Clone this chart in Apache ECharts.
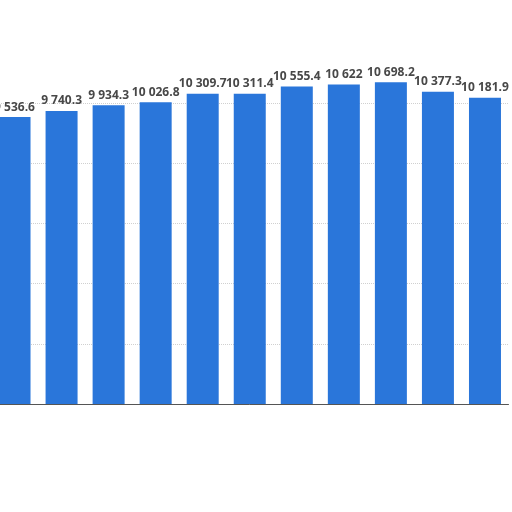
<!DOCTYPE html>
<html>
<head>
<meta charset="utf-8">
<script src="https://cdn.jsdelivr.net/npm/echarts@6/dist/echarts.min.js"></script>
<style>
  html, body { margin: 0; padding: 0; background: #fff; overflow: hidden; width: 512px; height: 512px; }
  #chart { position: absolute; left: -9px; top: 0; width: 521px; height: 512px; }
</style>
</head>
<body>
<div id="chart"></div>
<script>
// category names are not visible in the picture
const categories = ['1', '2', '3', '4', '5', '6', '7', '8', '9', '10', '11']
const values = [9536.6, 9740.3, 9934.3, 10026.8, 10309.7, 10311.4, 10555.4, 10622, 10698.2, 10377.3, 10181.9]
const yTicks = [0, 2000, 4000, 6000, 8000, 10000, 12000]

function fmt(v) {
    let parts = String(v).split('.')
    let int = parts[0].replace(/\B(?=(\d{3})+(?!\d))/g, ' ')
    return parts.length > 1 ? int + '.' + parts[1] : int
}

let chart = echarts.init(document.getElementById('chart'))
chart.setOption({
    animation: false,
    grid: { left: 0, right: 3.5, top: 43, bottom: 108, containLabel: false },
    xAxis: {
        type: 'category',
        data: categories,
        axisLine: { lineStyle: { color: '#555', width: 1 } },
        axisTick: { show: false },
        axisLabel: { show: false }
    },
    yAxis: {
        type: 'value',
        min: yTicks[0],
        max: yTicks[yTicks.length - 1],
        interval: 2000,
        axisLabel: { show: false },
        axisLine: { show: false },
        axisTick: { show: false },
        splitLine: {
            showMaxLine: false,
            lineStyle: { color: '#d0d0d0', type: 'dotted', width: 1 }
        }
    },
    series: [{
        type: 'bar',
        data: values,
        barWidth: 32,
        itemStyle: { color: '#2a76da' },
        label: {
            show: true,
            position: 'top',
            distance: 4,
            color: '#484848',
            fontFamily: 'Open Sans',
            fontWeight: 'bold',
            fontSize: 12,
            formatter: p => fmt(p.value)
        }
    }]
})
</script>
</body>
</html>
